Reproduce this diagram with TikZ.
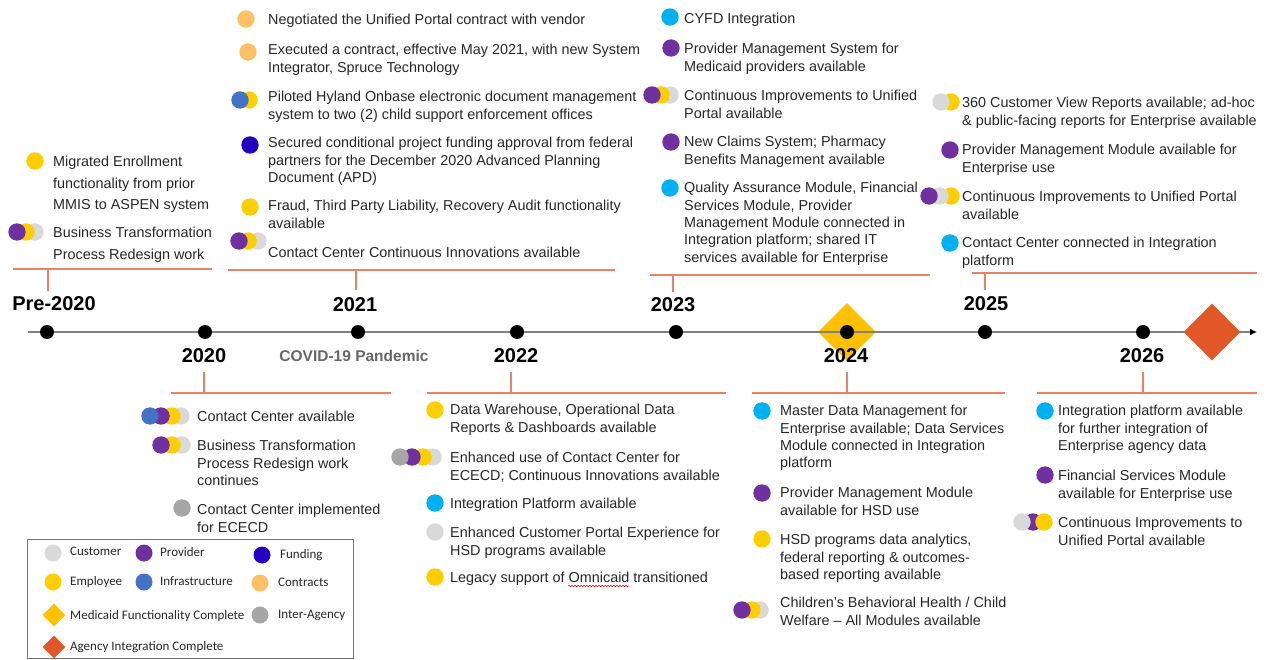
\documentclass[tikz,border=0pt]{standalone}
\usepackage{fontspec}
\setmainfont{Liberation Sans}
\newfontfamily\legendfont{Carlito}
\usetikzlibrary{positioning,shapes.geometric,arrows.meta,decorations.pathmorphing}

\definecolor{cust}{RGB}{217,217,217}
\definecolor{prov}{RGB}{112,48,160}
\definecolor{fund}{RGB}{34,2,190}
\definecolor{empl}{RGB}{255,206,0}
\definecolor{infra}{RGB}{68,114,196}
\definecolor{contr}{RGB}{255,192,102}
\definecolor{inter}{RGB}{166,166,166}
\definecolor{integ}{RGB}{0,176,240}
\definecolor{medi}{RGB}{255,192,0}
\definecolor{agency}{RGB}{226,87,40}
\definecolor{brkcol}{RGB}{236,128,100}
\definecolor{axisgray}{RGB}{128,128,128}
\definecolor{txt}{RGB}{38,38,38}

\tikzset{
  item/.style={anchor=north west, align=left, inner sep=0pt, text=txt,
    font=\fontsize{14.4}{17.4}\selectfont},
  wideitem/.style={item, font=\fontsize{14.4}{21.5}\selectfont},
  year/.style={inner sep=0pt, font=\bfseries\fontsize{20}{24}\selectfont},
  yrdot/.style={circle, fill=black, inner sep=0pt, minimum size=14pt},
  brk/.style={draw=brkcol, line width=1.2pt},
  gem/.style={diamond, fill=#1, inner sep=0pt},
  legtext/.style={anchor=west, inner sep=0pt, text=txt, text height=9pt, text depth=2.5pt,
    font=\legendfont\fontsize{13}{15}\selectfont},
}

\begin{document}
\begin{tikzpicture}[x=1pt, y=-1pt]
  \useasboundingbox (0,0) rectangle (1269,660);

  % timeline
  \node[gem=medi, minimum size=58pt] (medi) at (847,332) {};
  \draw[axisgray, line width=2.2pt, -{Latex[black,length=7pt,width=7pt]}] (28,332) -- (1257,332);
  \node[yrdot] (t0) at (47,332) {};
  \node[yrdot] (t1) at (205,332) {};
  \node[yrdot] (t2) at (358,332) {};
  \node[yrdot] (t3) at (517,332) {};
  \node[yrdot] (t4) at (676,332) {};
  \node[yrdot] (t5) at (847,332) {};
  \node[yrdot] (t6) at (985,332) {};
  \node[yrdot] (t7) at (1143,332) {};
  \node[gem=agency, minimum size=57pt] (agency) at (1212,332) {};

  \node[year] (pre) at (54,304) {Pre-2020};
  \node[year] (y21) at (355,305) {2021};
  \node[year] (y23) at (673,305) {2023};
  \node[year] (y25) at (986,304) {2025};
  \node[year] (y20) at (204,356) {2020};
  \node[year] (y22) at (516,356) {2022};
  \node[year] (y24) at (846,356) {2024};
  \node[year] (y26) at (1142,356) {2026};
  \node[inner sep=0pt, text=black!60, font=\bfseries\fontsize{15.5}{18}\selectfont] (covid) at (354,356) {COVID-19 Pandemic};

  % brackets
  \draw[brk] (13,269) -- (212,269) (48,269) -- (48,291);
  \draw[brk] (228,270) -- (615,270) (356,270) -- (356,290);
  \draw[brk] (650,275) -- (930,275) (673,275) -- (673,292);
  \draw[brk] (972,273) -- (1257,273) (985,273) -- (985,290);
  \draw[brk] (171,393) -- (391,393) (204,372) -- (204,393);
  \draw[brk] (427,393) -- (726,393) (511,372) -- (511,393);
  \draw[brk] (752,393) -- (1005,393) (847,372) -- (847,393);
  \draw[brk] (1037,393) -- (1257,393) (1143,372) -- (1143,393);

  % Pre-2020
  \fill[empl] (35,161) circle[radius=8.7pt];
  \foreach \c/\x in {cust/35, empl/26, prov/17} \fill[\c] (\x,232) circle[radius=8.7pt];
  \node[wideitem] (p1) at (53,156) {Migrated Enrollment\\functionality from prior\\MMIS to ASPEN system};
  \node[wideitem] (p2) at (53,227) {Business Transformation\\Process Redesign work};

  % 2021
  \fill[contr] (246,19) circle[radius=8.7pt];
  \fill[contr] (248,52) circle[radius=8.7pt];
  \fill[empl] (249,100) circle[radius=8.7pt];
  \fill[infra] (240,100) circle[radius=8.7pt];
  \fill[fund] (250,145) circle[radius=8.7pt];
  \fill[empl] (250,207) circle[radius=8.7pt];
  \foreach \c/\x in {cust/258, empl/248, prov/239} \fill[\c] (\x,241) circle[radius=8.7pt];
  \node[item] (a1) at (268,14) {Negotiated the Unified Portal contract with vendor};
  \node[item] (a2) at (268,44) {Executed a contract, effective May 2021, with new System\\Integrator, Spruce Technology};
  \node[item] (a3) at (268,91) {Piloted Hyland Onbase electronic document management\\system to two (2) child support enforcement offices};
  \node[item] (a4) at (268,137) {Secured conditional project funding approval from federal\\partners for the December 2020 Advanced Planning\\Document (APD)};
  \node[item] (a5) at (268,200) {Fraud, Third Party Liability, Recovery Audit functionality\\available};
  \node[item] (a6) at (268,247) {Contact Center Continuous Innovations available};

  % 2023
  \fill[integ] (670,17) circle[radius=8.7pt];
  \fill[prov] (671,48) circle[radius=8.7pt];
  \foreach \c/\x in {cust/670, empl/661, prov/652} \fill[\c] (\x,95) circle[radius=8.7pt];
  \fill[prov] (671,142) circle[radius=8.7pt];
  \fill[integ] (670,188) circle[radius=8.7pt];
  \node[item] (c1) at (684,13) {CYFD Integration};
  \node[item] (c2) at (684,43) {Provider Management System for\\Medicaid providers available};
  \node[item] (c3) at (684,90) {Continuous Improvements to Unified\\Portal available};
  \node[item] (c4) at (684,136) {New Claims System; Pharmacy\\Benefits Management available};
  \node[item] (c5) at (684,182) {Quality Assurance Module, Financial\\Services Module, Provider\\Management Module connected in\\Integration platform; shared IT\\services available for Enterprise};

  % 2025
  \foreach \c/\x in {empl/951, cust/941} \fill[\c] (\x,102) circle[radius=8.7pt];
  \fill[prov] (950,150) circle[radius=8.7pt];
  \foreach \c/\x in {empl/951, cust/940, prov/929} \fill[\c] (\x,196) circle[radius=8.7pt];
  \fill[integ] (950,243) circle[radius=8.7pt];
  \node[item] (e1) at (962,97) {360 Customer View Reports available; ad-hoc\\\& public-facing reports for Enterprise available};
  \node[item] (e2) at (962,144) {Provider Management Module available for\\Enterprise use};
  \node[item] (e3) at (962,191) {Continuous Improvements to Unified Portal\\available};
  \node[item] (e4) at (962,237) {Contact Center connected in Integration\\platform};

  % 2020
  \foreach \c/\x in {cust/181, empl/172, prov/161, infra/150} \fill[\c] (\x,416) circle[radius=8.7pt];
  \foreach \c/\x in {cust/182, empl/172, prov/161} \fill[\c] (\x,445) circle[radius=8.7pt];
  \fill[inter] (182,508) circle[radius=8.7pt];
  \node[item] (b1) at (197,411) {Contact Center available};
  \node[item] (b2) at (197,440) {Business Transformation\\Process Redesign work\\continues};
  \node[item] (b3) at (197,504) {Contact Center implemented\\for ECECD};

  % 2022
  \fill[empl] (435,410) circle[radius=8.7pt];
  \foreach \c/\x in {cust/433, empl/423, prov/412, inter/400} \fill[\c] (\x,457) circle[radius=8.7pt];
  \fill[integ] (435,503) circle[radius=8.7pt];
  \fill[cust] (435,532) circle[radius=8.7pt];
  \fill[empl] (435,577) circle[radius=8.7pt];
  \node[item] (d1) at (450,404) {Data Warehouse, Operational Data\\Reports \& Dashboards available};
  \node[item] (d2) at (450,452) {Enhanced use of Contact Center for\\ECECD; Continuous Innovations available};
  \node[item] (d3) at (450,498) {Integration Platform available};
  \node[item] (d4) at (450,527) {Enhanced Customer Portal Experience for\\HSD programs available};
  \node[item] (d5) at (450,572) {Legacy support of Omnicaid transitioned};
  \draw[red!85!black, line width=0.5pt, decorate, decoration={snake, amplitude=0.8pt, segment length=3pt}] (568,586) -- (629,586);

  % 2024
  \fill[integ] (762,411) circle[radius=8.7pt];
  \fill[prov] (762,493) circle[radius=8.7pt];
  \fill[empl] (762,539) circle[radius=8.7pt];
  \foreach \c/\x in {cust/760, empl/752, prov/742} \fill[\c] (\x,610) circle[radius=8.7pt];
  \node[item] (f1) at (780,405) {Master Data Management for\\Enterprise available; Data Services\\Module connected in Integration\\platform};
  \node[item] (f2) at (780,487) {Provider Management Module\\available for HSD use};
  \node[item] (f3) at (780,534) {HSD programs data analytics,\\federal reporting \& outcomes-\\based reporting available};
  \node[item] (f4) at (780,597) {Children's Behavioral Health / Child\\Welfare -- All Modules available};

  % 2026
  \fill[integ] (1045,411) circle[radius=8.7pt];
  \fill[prov] (1045,475) circle[radius=8.7pt];
  \foreach \c/\x in {prov/1033, cust/1022, empl/1044} \fill[\c] (\x,522) circle[radius=8.7pt];
  \node[item] (g1) at (1058,405) {Integration platform available\\for further integration of\\Enterprise agency data};
  \node[item] (g2) at (1058,470) {Financial Services Module\\available for Enterprise use};
  \node[item] (g3) at (1058,517) {Continuous Improvements to\\Unified Portal available};

  % legend
  \draw[black!55, line width=0.9pt] (27,539) rectangle (353,658);
  \fill[cust] (53,553) circle[radius=8.5pt];
  \fill[prov] (144,553) circle[radius=8.5pt];
  \fill[fund] (262,555) circle[radius=8.5pt];
  \fill[empl] (53,582) circle[radius=8.5pt];
  \fill[infra] (144,582) circle[radius=8.5pt];
  \fill[contr] (260,583) circle[radius=8.5pt];
  \fill[inter] (260,615) circle[radius=8.5pt];
  \node[gem=medi, minimum size=23pt] (lmedi) at (54,615) {};
  \node[gem=agency, minimum size=23pt] (lagency) at (54,647) {};
  \node[legtext] (lcust) at (70,552) {Customer};
  \node[legtext] (lprov) at (160,553) {Provider};
  \node[legtext] (lfund) at (280,555) {Funding};
  \node[legtext] (lempl) at (70,582) {Employee};
  \node[legtext] (linfra) at (160,582) {Infrastructure};
  \node[legtext] (lcontr) at (278,583) {Contracts};
  \node[legtext] (lmeditext) at (70,616) {Medicaid Functionality Complete};
  \node[legtext] (linter) at (278,615) {Inter-Agency};
  \node[legtext] (lagencytext) at (70,647) {Agency Integration Complete};
\end{tikzpicture}
\end{document}
